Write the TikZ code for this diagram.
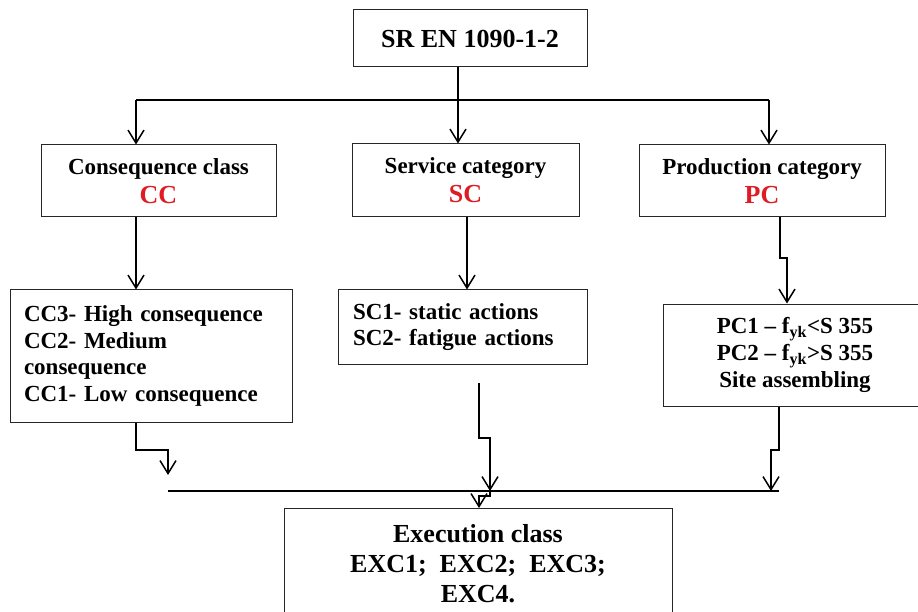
\documentclass[tikz,border=0pt]{standalone}
\usepackage{fontspec}
\setmainfont{Liberation Serif}
\usepackage{xcolor}
\usepackage{tikz}
\usetikzlibrary{arrows.meta}
\definecolor{classred}{RGB}{222, 28, 36}

\begin{document}
\begin{tikzpicture}[x=1pt, y=-1pt,
        box/.style = {draw=black!85, line width=1pt, inner sep=0pt, align=center, font=\bfseries\fontsize{23}{29}\selectfont},
        list/.style = {box, font=\bfseries\fontsize{23}{26.7}\selectfont},
        link/.style = {line width=1.4pt},
        arr/.style = {link, -{Straight Barb[length=13pt, width=16pt, line width=1.5pt]}}]
    \useasboundingbox (0,0) rectangle (918,612);

    % standard and the three classifications
    \node[box, minimum width=234pt, minimum height=57pt, font=\bfseries\fontsize{26}{30}\selectfont] (std) at (470, 38.5) {SR EN 1090-1-2};
    \node[box, minimum width=235pt, minimum height=72pt] (cc) at (158.5, 181) {Consequence class\\{\fontsize{26}{29}\selectfont\color{classred}CC}};
    \node[box, minimum width=227pt, minimum height=73pt] (sc) at (465.5, 180.5) {Service category\\{\fontsize{26}{29}\selectfont\color{classred}SC}};
    \node[box, minimum width=246pt, minimum height=72pt] (pc) at (762, 181) {Production category\\{\fontsize{26}{29}\selectfont\color{classred}PC}};

    \node[list, align=left, inner xsep=14pt, text width=254pt, minimum height=132pt] (cclist) at (151, 356) {CC3- High consequence\\CC2- Medium\\consequence\\CC1- Low consequence};
    \node[list, align=left, inner xsep=15pt, text width=219pt, minimum height=74pt] (sclist) at (462.5, 327) {SC1- static actions\\SC2- fatigue actions};
    \node[list, minimum width=264pt, minimum height=102pt] (pclist) at (795, 355) {PC1 -- f\textsubscript{yk}<S 355\\PC2 -- f\textsubscript{yk}>S 355\\Site assembling};

    \node[box, anchor=north, minimum width=388pt, inner ysep=16pt, font=\bfseries\fontsize{26}{30}\selectfont] (exc) at (478, 508) {Execution class\\EXC1;~~EXC2;~~EXC3;\\EXC4.};

    % top branching
    \coordinate (t0) at (458, 100);
    \coordinate (tl) at (136, 100);
    \coordinate (tr) at (769, 100);
    \draw[link] (std.south -| t0) -- (t0);
    \draw[link] (tl) -- (tr);
    \draw[arr] (tl) -- (cc.north -| tl);
    \draw[arr] (t0) -- (sc.north -| t0);
    \draw[arr] (tr) -- (pc.north -| tr);

    % classes to their levels
    \coordinate (sj) at (467, 0);
    \coordinate (pj1) at (780, 258);
    \coordinate (pj2) at (787, 258);
    \draw[arr] (cc.south -| tl) -- (cclist.north -| tl);
    \draw[arr] (sc.south -| sj) -- (sclist.north -| sj);
    \draw[arr] (pc.south -| pj1) -- (pj1) -- (pj2) -- (pclist.north -| pj2);

    % collecting line
    \coordinate (ba) at (136, 450);
    \coordinate (bb) at (168, 450);
    \coordinate (bc) at (168, 475);
    \coordinate (bl) at (168, 491);
    \coordinate (br) at (779, 491);
    \coordinate (s0) at (479, 383);
    \coordinate (s1) at (479, 438);
    \coordinate (s2) at (490, 438);
    \coordinate (s3) at (490, 491);
    \coordinate (p1) at (779, 450);
    \coordinate (p2) at (771, 450);
    \coordinate (p3) at (771, 491);
    \coordinate (e1) at (490, 496);
    \coordinate (e2) at (479, 496);
    \draw[link] (bl) -- (br);
    \draw[arr] (cclist.south -| ba) -- (ba) -- (bb) -- (bc);
    \draw[arr] (s0) -- (s1) -- (s2) -- (s3);
    \draw[arr] (pclist.south -| p1) -- (p1) -- (p2) -- (p3);
    \draw[arr] (s3) -- (e1) -- (e2) -- (exc.north -| e2);
\end{tikzpicture}
\end{document}
